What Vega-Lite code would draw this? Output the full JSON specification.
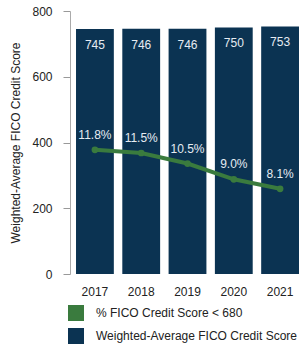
{
  "$schema": "https://vega.github.io/schema/vega-lite/v6.json",
  "width": 229,
  "height": 263,
  "autosize": {"type": "none"},
  "padding": {"left": 70, "top": 11, "right": 0, "bottom": 73},
  "background": "white",
  "config": {
    "view": {"stroke": null},
    "font": "Liberation Sans",
    "axis": {"labelFont": "Liberation Sans", "titleFont": "Liberation Sans"},
    "legend": {"labelFont": "Liberation Sans"}
  },
  "data": {
    "values": [
      {"year": "2017", "score": 745, "pct": 11.8, "pctLabel": "11.8%"},
      {"year": "2018", "score": 746, "pct": 11.5, "pctLabel": "11.5%"},
      {"year": "2019", "score": 746, "pct": 10.5, "pctLabel": "10.5%"},
      {"year": "2020", "score": 750, "pct": 9.0, "pctLabel": "9.0%"},
      {"year": "2021", "score": 753, "pct": 8.1, "pctLabel": "8.1%"}
    ]
  },
  "encoding": {
    "x": {
      "field": "year",
      "type": "ordinal",
      "scale": {"paddingInner": 0.183, "paddingOuter": 0.065, "align": 1},
      "axis": {
        "title": null,
        "labelAngle": 0,
        "ticks": false,
        "domain": false,
        "labelPadding": 12,
        "labelFontSize": 12,
        "labelColor": "#222222"
      }
    }
  },
  "layer": [
    {
      "layer": [
        {
          "mark": {"type": "bar", "cornerRadius": 0},
          "encoding": {
            "y": {
              "field": "score",
              "type": "quantitative",
              "scale": {"domain": [0, 800]},
              "axis": {
                "title": "Weighted-Average FICO Credit Score",
                "titleFontSize": 12,
                "titleFontWeight": "normal",
                "titleColor": "#222222",
                "titlePadding": 9,
                "values": [0, 200, 400, 600, 800],
                "grid": false,
                "tickSize": 7,
                "tickColor": "#999999",
                "domainColor": "#aaaaaa",
                "labelPadding": 11,
                "labelFontSize": 12,
                "labelColor": "#222222"
              }
            },
            "color": {
              "datum": "Weighted-Average FICO Credit Score",
              "type": "nominal",
              "scale": {
                "domain": ["% FICO Credit Score < 680", "Weighted-Average FICO Credit Score"],
                "range": ["#3a7b3e", "#0b3352"]
              },
              "legend": {
                "title": null,
                "orient": "none",
                "legendX": -2,
                "legendY": 294,
                "direction": "vertical",
                "symbolType": "square",
                "symbolSize": 256,
                "symbolStrokeWidth": 0,
                "symbolOpacity": 1,
                "labelFontSize": 12,
                "labelColor": "#222222",
                "labelOffset": 12,
                "labelLimit": 400,
                "rowPadding": 7,
                "padding": 0
              }
            }
          }
        },
        {
          "mark": {"type": "text", "dy": 16, "baseline": "middle", "fontSize": 12, "color": "#e6ecf2"},
          "encoding": {
            "y": {"field": "score", "type": "quantitative", "scale": {"domain": [0, 800]}},
            "text": {"field": "score", "type": "quantitative"}
          }
        }
      ]
    },
    {
      "layer": [
        {
          "mark": {"type": "line", "strokeWidth": 4, "point": {"size": 45, "filled": true}},
          "encoding": {
            "y": {
              "field": "pct",
              "type": "quantitative",
              "scale": {"domain": [0, 25]},
              "axis": null
            },
            "color": {"datum": "% FICO Credit Score < 680", "type": "nominal"}
          }
        },
        {
          "mark": {"type": "text", "dy": -15, "baseline": "middle", "fontSize": 12, "color": "#e6ecf2"},
          "encoding": {
            "y": {"field": "pct", "type": "quantitative", "scale": {"domain": [0, 25]}},
            "text": {"field": "pctLabel", "type": "nominal"}
          }
        }
      ]
    }
  ],
  "resolve": {"scale": {"y": "independent"}}
}
